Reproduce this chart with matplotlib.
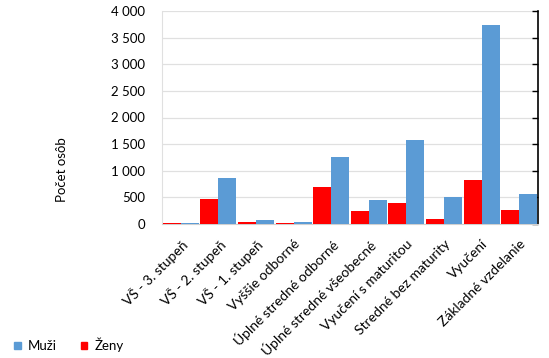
import matplotlib
matplotlib.use("Agg")
import matplotlib.pyplot as plt
import numpy as np
from matplotlib.patches import Patch

plt.rcParams['font.family'] = ['Lato', 'DejaVu Sans']

categories = ["VŠ - 3. stupeň", "VŠ - 2. stupeň", "VŠ - 1. stupeň", "Vyššie odborné",
              "Úplné stredné odborné", "Úplné stredné všeobecné", "Vyučení s maturitou",
              "Stredné bez maturity", "Vyučení", "Základné vzdelanie"]
muzi = [15, 865, 70, 32, 1260, 451, 1580, 508, 3743, 564]
zeny = [13, 468, 32, 15, 686, 245, 395, 94, 828, 263]
yticks = [0, 500, 1000, 1500, 2000, 2500, 3000, 3500, 4000]
ytick_labels = ["0", "500", "1 000", "1 500", "2 000", "2 500", "3 000", "3 500", "4 000"]

c_muzi = "#5B9BD5"
c_zeny = "#FF0000"

fig = plt.figure(figsize=(5.49, 3.58), dpi=100)
ax = fig.add_axes([162/549, 1-224/358, (538-162)/549, (224-11)/358])

x = np.arange(len(categories))
w = 0.48
ax.bar(x - w/2, zeny, width=w, color=c_zeny, zorder=3)
ax.bar(x + w/2, muzi, width=w, color=c_muzi, zorder=3)

ax.set_xlim(-0.5, len(categories) - 0.5)
ax.set_ylim(0, 4000)
ax.set_yticks(yticks)
ax.set_yticklabels(ytick_labels, fontsize=9.5, color="#000000")
ax.yaxis.grid(True, color="#E0E0E0", linewidth=0.9, zorder=0)
ax.set_axisbelow(True)

ax.set_xticks(x)
ax.set_xticklabels(categories, rotation=45, ha="right", rotation_mode="anchor", fontsize=10)
ax.tick_params(axis='x', length=0, pad=10)
ax.tick_params(axis='y', left=False, right=True, direction='in', length=4,
               color='black', width=1, labelleft=True, pad=12)

ax.spines['top'].set_visible(False)
ax.spines['left'].set_color("#E0E0E0")
ax.spines['bottom'].set_color("#D0D0D0")
ax.spines['right'].set_color("black")
ax.spines['right'].set_linewidth(1.2)

fig.text(62/549, 1-170/358, "Počet osôb", rotation=90, ha="center", va="center", fontsize=9.5)

handles = [Patch(color=c_muzi, label="Muži"), Patch(color=c_zeny, label="Ženy")]
fig.legend(handles=handles, loc="center left", bbox_to_anchor=(14/549, 1-345/358),
           ncol=2, frameon=False, fontsize=9.5, handlelength=0.5, handleheight=0.5,
           handletextpad=0.55, columnspacing=1.8, borderpad=0, borderaxespad=0)

fig.savefig("out.png", dpi=100)
